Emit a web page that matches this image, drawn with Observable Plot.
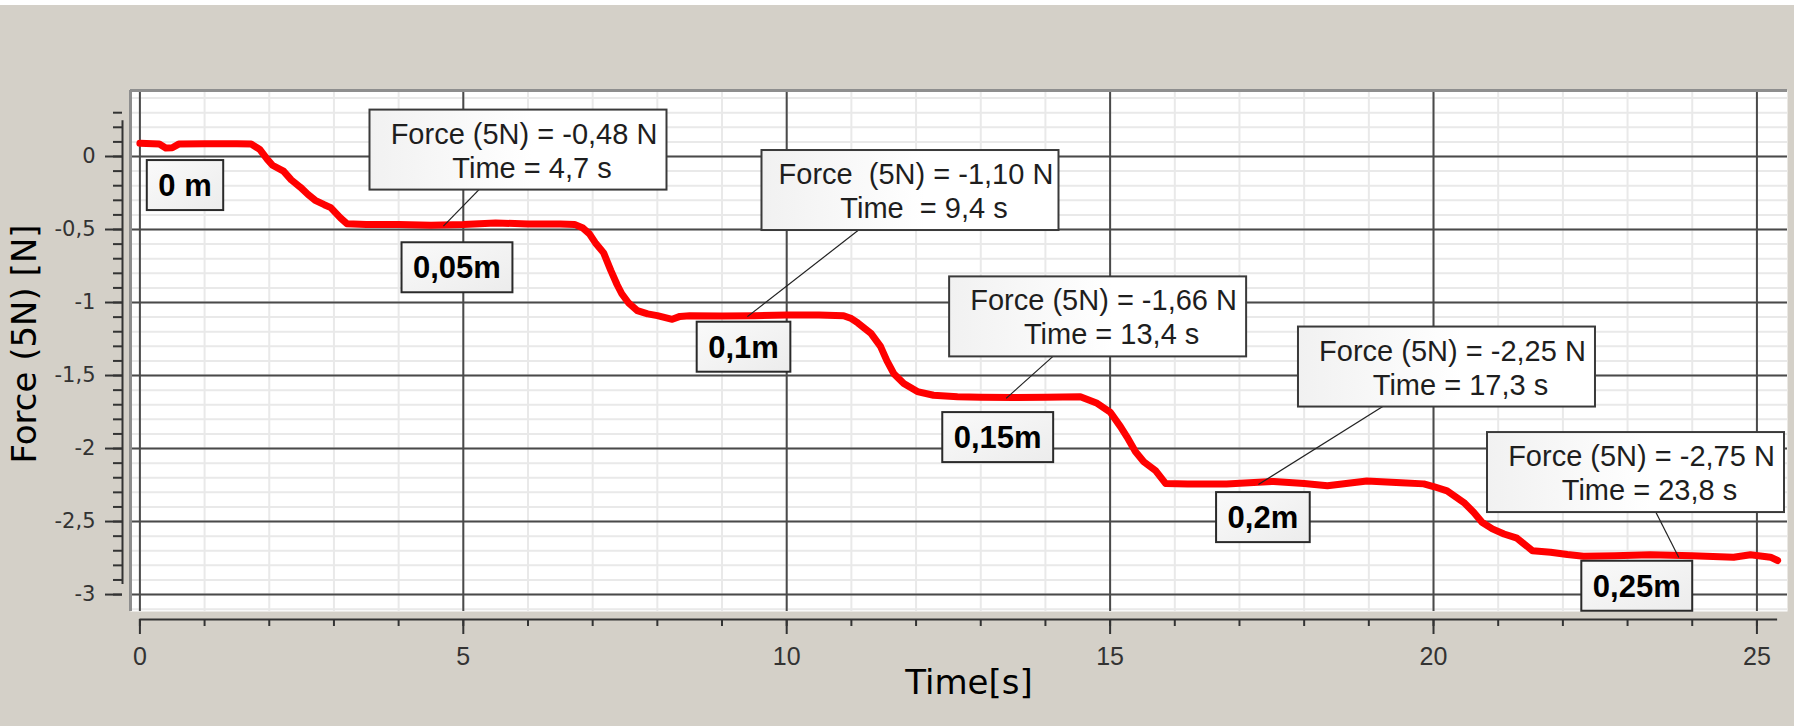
<!DOCTYPE html>
<html><head><meta charset="utf-8">
<script src="https://cdn.jsdelivr.net/npm/d3@7"></script>
<script src="https://cdn.jsdelivr.net/npm/@observablehq/plot@0.6"></script>
<style>
html,body{margin:0;padding:0;background:#ffffff;}
#chart{margin-top:5px;width:1794px;height:721px;background:#d4d0c8;overflow:hidden}
#chart svg{display:block}
</style></head>
<body><div id="chart"></div>
<script>
// ---- data ----
const timeS = [0, 0.3, 0.4, 0.5, 0.6, 1.0, 1.5, 1.72, 1.85, 1.97, 2.05, 2.22, 2.34, 2.48, 2.6, 2.71, 2.85, 2.95, 3.1, 3.2, 3.5, 4.0, 4.5, 5.0, 5.5, 6.0, 6.5, 6.72, 6.85, 6.95, 7.04, 7.17, 7.28, 7.38, 7.45, 7.55, 7.69, 7.85, 8.0, 8.23, 8.35, 8.5, 9.0, 9.5, 10.0, 10.5, 10.88, 11.0, 11.1, 11.3, 11.45, 11.55, 11.66, 11.81, 12.02, 12.27, 12.64, 13.0, 13.5, 14.0, 14.54, 14.8, 15.0, 15.16, 15.26, 15.39, 15.52, 15.7, 15.86, 16.2, 16.8, 17.53, 18.0, 18.36, 18.97, 19.5, 19.85, 20.0, 20.21, 20.47, 20.62, 20.75, 20.91, 21.09, 21.29, 21.4, 21.53, 21.81, 22.07, 22.32, 22.8, 23.35, 24.0, 24.64, 24.9, 25.21, 25.32];
const forceN = [0.09, 0.085, 0.058, 0.06, 0.085, 0.087, 0.087, 0.085, 0.05, -0.02, -0.06, -0.10, -0.16, -0.21, -0.26, -0.30, -0.33, -0.35, -0.42, -0.46, -0.465, -0.465, -0.47, -0.465, -0.455, -0.462, -0.462, -0.465, -0.49, -0.53, -0.59, -0.66, -0.78, -0.88, -0.94, -1.0, -1.055, -1.078, -1.09, -1.115, -1.095, -1.09, -1.092, -1.09, -1.085, -1.085, -1.09, -1.11, -1.14, -1.21, -1.30, -1.40, -1.49, -1.555, -1.61, -1.635, -1.645, -1.648, -1.65, -1.648, -1.645, -1.69, -1.75, -1.85, -1.92, -2.02, -2.09, -2.15, -2.24, -2.243, -2.243, -2.225, -2.24, -2.255, -2.222, -2.235, -2.242, -2.26, -2.29, -2.37, -2.436, -2.505, -2.55, -2.585, -2.614, -2.653, -2.70, -2.71, -2.726, -2.738, -2.735, -2.727, -2.735, -2.744, -2.727, -2.744, -2.767];

const xTicksMajor = [0, 5, 10, 15, 20, 25];
const xTicksMinor = d3.range(0, 26);
const yTicksMajor = [0, -0.5, -1, -1.5, -2, -2.5, -3];
const yTicksMinor = d3.range(-30, 4).map(i => i / 10);
const yGridMinor = d3.range(-31, 5).map(i => i / 10);

const calloutTime = [4.7, 9.4, 13.4, 17.3, 23.8];
const calloutForce = [-0.48, -1.10, -1.66, -2.25, -2.75];
const calloutLine1 = ["Force (5N) = -0,48 N", "Force  (5N) = -1,10 N", "Force (5N) = -1,66 N", "Force (5N) = -2,25 N", "Force (5N) = -2,75 N"];
const calloutLine2 = ["Time = 4,7 s", "Time  = 9,4 s", "Time = 13,4 s", "Time = 17,3 s", "Time = 23,8 s"];

const distLabels = ["0 m", "0,05m", "0,1m", "0,15m", "0,2m", "0,25m"];
const distTime = [0.705, 4.91, 9.34, 13.27, 17.37, 23.15];
const distForce = [-0.199, -0.762, -1.306, -1.925, -2.473, -2.943];

const xLabel = "Time[s]";
const yLabel = "Force (5N) [N]";

// ---- layout (pixels) ----
const calloutDX = [74.6, 162.6, 91.5, 188.1, -43.3];
const calloutDY = [-76.5, -126.6, -82, -118, -85.5];
const xDomain = [-0.1453, 25.4728];
const yDomain = [-3.116, 0.452];

const measure = document.createElement("canvas").getContext("2d");
const fmtComma = d => String(+(+d).toFixed(2)).replace(".", ",");

function calloutMark() {
  return Plot.dot(d3.range(calloutTime.length), {
    x: i => calloutTime[i], y: i => calloutForce[i],
    render(index, scales, values) {
      const g = d3.create("svg:g");
      const defs = g.append("defs");
      const gr = defs.append("linearGradient").attr("id", "cgrad").attr("x1", 0).attr("x2", 1).attr("y1", 0).attr("y2", 0);
      gr.append("stop").attr("offset", "0%").attr("stop-color", "#f1f1f1");
      gr.append("stop").attr("offset", "55%").attr("stop-color", "#ffffff");
      const W = 297, H = 80;
      for (const i of index) {
        const ax = values.x[i], ay = values.y[i];
        const cx = ax + calloutDX[i], cy = ay + calloutDY[i];
        g.append("line").attr("x1", ax).attr("y1", ay).attr("x2", cx).attr("y2", cy)
          .attr("stroke", "#222").attr("stroke-width", 1.2);
        g.append("rect").attr("x", cx - W / 2).attr("y", cy - H / 2).attr("width", W).attr("height", H)
          .attr("fill", "url(#cgrad)").attr("stroke", "#3a3a3a").attr("stroke-width", 2);
        const t = g.append("text").attr("text-anchor", "middle").attr("fill", "#1e1e1e")
          .attr("font-family", "Liberation Sans").attr("font-size", 29).style("white-space", "pre");
        t.append("tspan").attr("x", cx + 6).attr("y", cy - 6).text(calloutLine1[i]);
        t.append("tspan").attr("x", cx + 14).attr("y", cy + 28).text(calloutLine2[i]);
      }
      return g.node();
    }
  });
}

function distMark() {
  return Plot.dot(d3.range(distLabels.length), {
    x: i => distTime[i], y: i => distForce[i],
    render(index, scales, values) {
      const g = d3.create("svg:g");
      const defs = g.append("defs");
      const gr = defs.append("linearGradient").attr("id", "lgrad").attr("x1", 0).attr("x2", 1).attr("y1", 0).attr("y2", 1);
      gr.append("stop").attr("offset", "0%").attr("stop-color", "#fafafa");
      gr.append("stop").attr("offset", "100%").attr("stop-color", "#ececec");
      measure.font = "bold 31px 'Liberation Sans'";
      for (const i of index) {
        const w = measure.measureText(distLabels[i]).width + 23, h = 50;
        const cx = values.x[i], cy = values.y[i];
        g.append("rect").attr("x", cx - w / 2).attr("y", cy - h / 2).attr("width", w).attr("height", h)
          .attr("fill", "url(#lgrad)").attr("stroke", "#2a2a2a").attr("stroke-width", 2);
        g.append("text").attr("x", cx).attr("y", cy).attr("dy", "0.36em").attr("text-anchor", "middle")
          .attr("font-family", "Liberation Sans").attr("font-weight", "bold").attr("font-size", 31)
          .attr("fill", "#000").style("white-space", "pre").text(distLabels[i]);
      }
      return g.node();
    }
  });
}

const chart = Plot.plot({
  width: 1794, height: 721,
  marginLeft: 130, marginRight: 7, marginTop: 85, marginBottom: 115,
  style: {background: "#d4d0c8", fontFamily: "Liberation Sans", color: "#333", overflow: "visible"},
  x: {domain: xDomain, label: null},
  y: {domain: yDomain, label: null},
  marks: [
    Plot.frame({fill: "white"}),
    Plot.ruleX(xTicksMinor, {stroke: "#e9e9e9", strokeWidth: 2}),
    Plot.ruleY(yGridMinor, {stroke: "#e9e9e9", strokeWidth: 2}),
    Plot.ruleX(xTicksMajor, {stroke: "#4a4a4a", strokeWidth: 2}),
    Plot.ruleY(yTicksMajor, {stroke: "#4a4a4a", strokeWidth: 2}),
    Plot.ruleX([xDomain[0]], {stroke: "#8e8e8e", strokeWidth: 3}),
    Plot.ruleY([yDomain[1]], {stroke: "#8e8e8e", strokeWidth: 3}),
    Plot.line(d3.range(timeS.length), {x: i => timeS[i], y: i => forceN[i], stroke: "#ff0000", strokeWidth: 7, strokeLinejoin: "round", strokeLinecap: "round"}),
    calloutMark(),
    distMark(),
    // x axis
    Plot.ruleY([yDomain[0]], {x1: () => 0, x2: () => d3.max(timeS), dy: 8, stroke: "#333", strokeWidth: 2}),
    Plot.axisX(xTicksMinor, {tickSize: 7, dy: 8, fill: "none", stroke: "#333", strokeWidth: 2, label: null}),
    Plot.axisX(xTicksMajor, {tickSize: 15, dy: 8, tickPadding: 13, fontSize: 25, fontFamily: "Liberation Sans", fill: "#333", stroke: "#333", strokeWidth: 2, label: null, tickFormat: d => String(d)}),
    // y axis
    Plot.ruleX([xDomain[0]], {y1: () => d3.min(yTicksMinor), y2: () => d3.max(yTicksMinor), dx: -8, insetTop: -10, insetBottom: -8, stroke: "#333", strokeWidth: 2}),
    Plot.axisY(yTicksMinor, {tickSize: 9, dx: -8, fill: "none", stroke: "#333", strokeWidth: 2, label: null}),
    Plot.axisY(yTicksMajor, {tickSize: 17, dx: -8, tickPadding: 10, fontSize: 21, fontFamily: "DejaVu Sans", fill: "#333", stroke: "#333", strokeWidth: 2, label: null, tickFormat: fmtComma}),
    // axis titles
    Plot.text([xLabel], {text: d => d, frameAnchor: "bottom", dx: 10, dy: 72, lineAnchor: "middle", textAnchor: "middle", fontSize: 34, fontFamily: "DejaVu Sans", fill: "#000"}),
    Plot.text([yLabel], {text: d => d, frameAnchor: "left", dx: -105, dy: -7, rotate: -90, lineAnchor: "middle", textAnchor: "middle", fontSize: 34, fontFamily: "DejaVu Sans", fill: "#000"})
  ]
});
document.getElementById("chart").append(chart);
</script>
</body></html>
